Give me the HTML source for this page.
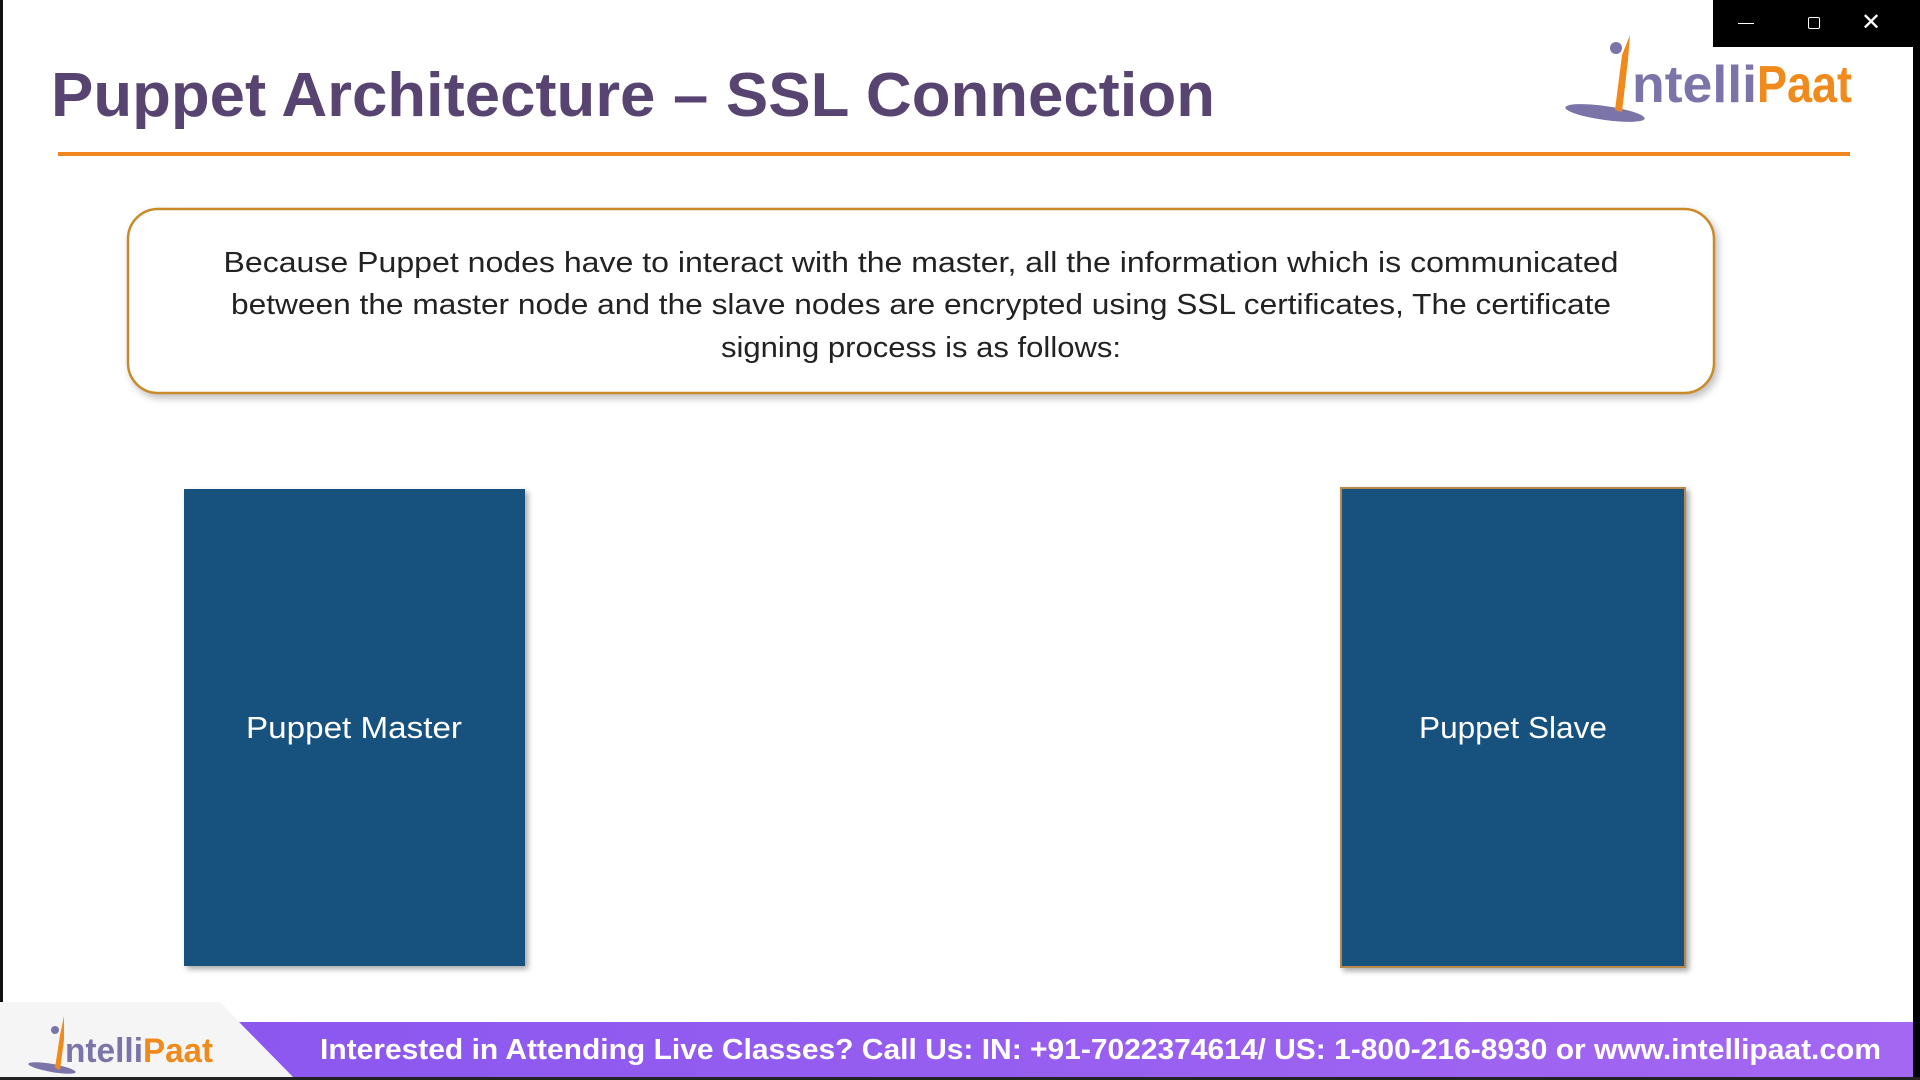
<!DOCTYPE html>
<html><head><meta charset="utf-8"><style>
body{margin:0;width:1920px;height:1080px;overflow:hidden;background:#fff;position:relative;font-family:"Liberation Sans",sans-serif}
.a{position:absolute}
</style></head><body>
<div class="a" style="left:0;top:0;width:3px;height:1080px;background:#111"></div>
<div class="a" style="left:1913px;top:0;width:7px;height:1080px;background:#000"></div>
<div class="a" style="left:1713px;top:0;width:207px;height:47px;background:#000;color:#fff">
<div class="a" style="left:25px;top:23px;width:16px;height:1px;background:#fff"></div>
<div class="a" style="left:95px;top:17px;width:10px;height:10px;border:1px solid #fff;border-radius:2px"></div>
<div class="a" style="left:148px;top:8px;font-size:24px;line-height:30px">✕</div>
</div>
<svg class="a" style="left:0;top:0" width="1920" height="1080">
<text x="51" y="116" font-size="62" font-weight="bold" fill="#574471" textLength="1164" lengthAdjust="spacingAndGlyphs" font-family="Liberation Sans">Puppet Architecture – SSL Connection</text>
<rect x="58" y="152" width="1792" height="4" fill="#ef8620"/>
<ellipse cx="1605" cy="113" rx="40" ry="7" fill="#7b74a8" transform="rotate(8 1605 113)"/>
<path d="M1615 110 L1622 55 L1630 35 L1628 60 L1622 112 Z" fill="#f08a1c"/>
<circle cx="1616" cy="48" r="6" fill="#7b74a8"/>
<text x="1632" y="102" font-size="52" font-weight="bold" fill="#7b74a8" font-family="Liberation Sans" textLength="125" lengthAdjust="spacingAndGlyphs">ntelli</text>
<text x="1757" y="102" font-size="52" font-weight="bold" fill="#f08a1c" font-family="Liberation Sans" textLength="95" lengthAdjust="spacingAndGlyphs">Paat</text>
<rect x="128" y="209" width="1586" height="184" rx="30" fill="#fff" stroke="#c98a2a" stroke-width="2.5" style="filter:drop-shadow(3px 4px 4px rgba(0,0,0,.25))"/>
<g font-size="29" fill="#222" text-anchor="middle" font-family="Liberation Sans">
<text x="921" y="272" textLength="1395" lengthAdjust="spacingAndGlyphs">Because Puppet nodes have to interact with the master, all the information which is communicated</text>
<text x="921" y="314" textLength="1380" lengthAdjust="spacingAndGlyphs">between the master node and the slave nodes are encrypted using SSL certificates, The certificate</text>
<text x="921" y="357" textLength="400" lengthAdjust="spacingAndGlyphs">signing process is as follows:</text>
</g>
<rect x="184" y="489" width="341" height="477" fill="#17527f" style="filter:drop-shadow(3px 3px 3px rgba(0,0,0,.35))"/>
<rect x="1341" y="488" width="344" height="479" fill="#17527f" stroke="#b8894a" stroke-width="2" style="filter:drop-shadow(3px 3px 3px rgba(0,0,0,.35))"/>
<g font-size="31" fill="#fff" text-anchor="middle" font-family="Liberation Sans">
<text x="354" y="738" textLength="216" lengthAdjust="spacingAndGlyphs">Puppet Master</text>
<text x="1513" y="738" textLength="188" lengthAdjust="spacingAndGlyphs">Puppet Slave</text>
</g>
<defs><linearGradient id="g" x1="0" x2="1"><stop offset="0" stop-color="#8b57ef"/><stop offset="1" stop-color="#a467f2"/></linearGradient></defs>
<polygon points="0,1002 220,1002 294,1078 0,1078" fill="#f5f5f5"/>
<polygon points="239,1022 1913,1022 1913,1078 294,1078" fill="url(#g)"/>
<rect x="0" y="1077" width="1920" height="3" fill="#222"/>
<text x="320" y="1059" font-size="29" font-weight="bold" fill="#fff" font-family="Liberation Sans" textLength="1561" lengthAdjust="spacingAndGlyphs">Interested in Attending Live Classes? Call Us: IN: +91-7022374614/ US: 1-800-216-8930 or www.intellipaat.com</text>
<ellipse cx="52" cy="1068" rx="24" ry="4" fill="#7b74a8" transform="rotate(10 52 1068)"/>
<path d="M55 1068 L60 1035 L64 1016 L64 1040 L60 1070 Z" fill="#f08a1c"/>
<circle cx="55" cy="1030" r="4" fill="#7b74a8"/>
<text x="65" y="1062" font-size="34" font-weight="bold" fill="#7b74a8" font-family="Liberation Sans" textLength="78" lengthAdjust="spacingAndGlyphs">ntelli</text>
<text x="143" y="1062" font-size="34" font-weight="bold" fill="#f08a1c" font-family="Liberation Sans" textLength="70" lengthAdjust="spacingAndGlyphs">Paat</text>
</svg>
</body></html>
